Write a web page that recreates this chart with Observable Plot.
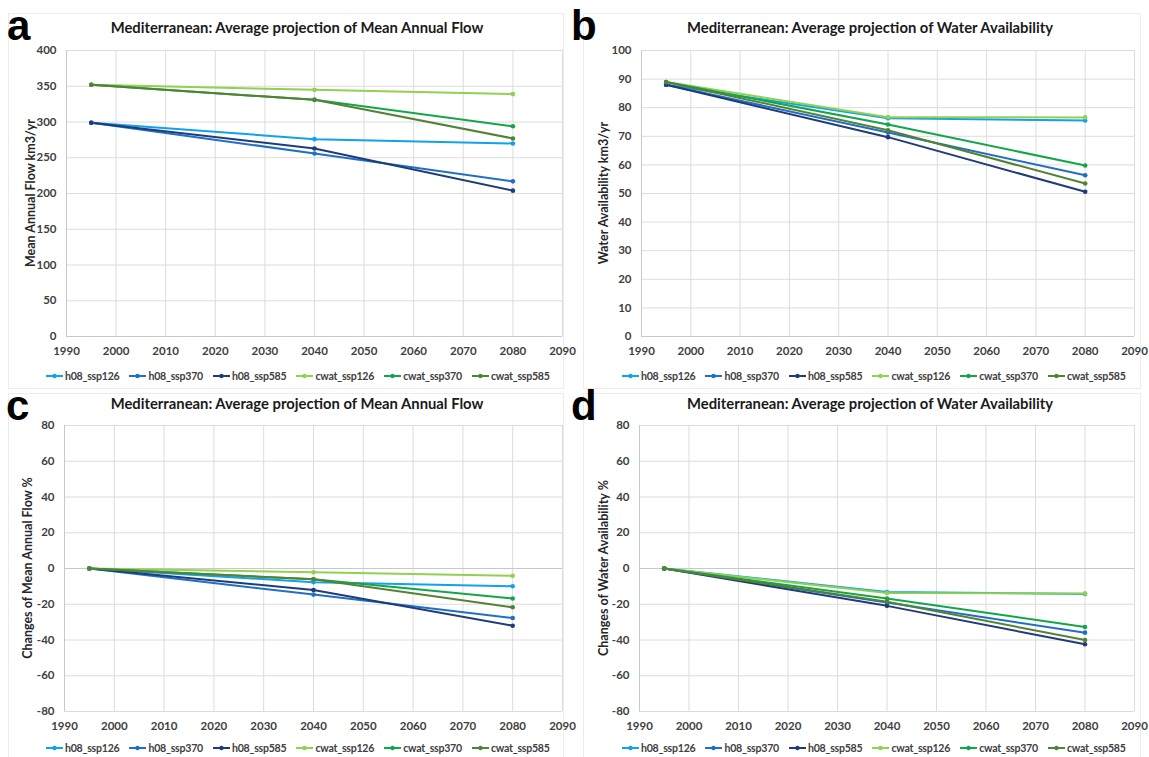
<!DOCTYPE html>
<html><head><meta charset="utf-8">
<script src="https://cdn.jsdelivr.net/npm/d3@7"></script>
<script src="https://cdn.jsdelivr.net/npm/@observablehq/plot@0.6"></script>
<style>
body{margin:0;background:#fff;font-family:Lato,"Open Sans",sans-serif;}
#fig{position:relative;width:1149px;height:757px;overflow:hidden;background:#fff}
.box{position:absolute;border:1px solid #ececec;box-sizing:border-box}
.title{position:absolute;font-weight:700;font-size:14.8px;color:#1a1a1a;white-space:nowrap;transform:translateX(-50%);line-height:18px}
.letter{position:absolute;font-family:"Liberation Sans Narrow","Liberation Sans",Arial,sans-serif;font-weight:700;font-size:42px;color:#000;line-height:1}
.ylab{position:absolute;font-weight:700;font-size:12.5px;color:#262626;white-space:nowrap;transform:translate(-50%,-50%) rotate(-90deg)}
.legend{position:absolute;display:flex;gap:10px;font-weight:700;font-size:10.6px;letter-spacing:-0.25px;color:#404040;white-space:nowrap;align-items:center;line-height:14px}
.legend .item{display:flex;align-items:center;gap:2px}
.svgwrap{position:absolute}
</style></head><body><div id="fig"></div><script>
// ---- data ----
const years = [1995, 2040, 2080];
const seriesNames = ["h08_ssp126","h08_ssp370","h08_ssp585","cwat_ssp126","cwat_ssp370","cwat_ssp585"];
const seriesColors = ["#10a2ea","#1f6fc6","#1f3c78","#92d050","#12a64a","#548235"];
const xTicks = [1990,2000,2010,2020,2030,2040,2050,2060,2070,2080,2090];

// panel a: Mean Annual Flow km3/yr (rows follow seriesNames)
const flowH08_126 = [299, 276, 270];
const flowH08_370 = [299, 256, 217];
const flowH08_585 = [299, 263, 204];
const flowCwat_126 = [352, 345, 339];
const flowCwat_370 = [352, 331, 294];
const flowCwat_585 = [352, 331, 277];
const flowTicks = [0,50,100,150,200,250,300,350,400];

// panel b: Water Availability km3/yr
const waH08_126 = [88, 76.3, 75.5];
const waH08_370 = [88, 71.3, 56.4];
const waH08_585 = [88, 69.7, 50.6];
const waCwat_126 = [89, 76.7, 76.6];
const waCwat_370 = [89, 74.1, 59.8];
const waCwat_585 = [89, 72.1, 53.5];
const waTicks = [0,10,20,30,40,50,60,70,80,90,100];

// panel c: Changes of Mean Annual Flow %
const dFlowH08_126 = [0, -7.7, -9.9];
const dFlowH08_370 = [0, -14.6, -27.7];
const dFlowH08_585 = [0, -12.0, -32.0];
const dFlowCwat_126 = [0, -2.1, -4.1];
const dFlowCwat_370 = [0, -6.0, -16.8];
const dFlowCwat_585 = [0, -6.0, -21.7];

// panel d: Changes of Water Availability %
const dWaH08_126 = [0, -13.2, -14.2];
const dWaH08_370 = [0, -19.0, -35.9];
const dWaH08_585 = [0, -20.9, -42.4];
const dWaCwat_126 = [0, -13.7, -14.0];
const dWaCwat_370 = [0, -16.8, -32.7];
const dWaCwat_585 = [0, -18.6, -40.0];
const changeTicks = [-80,-60,-40,-20,0,20,40,60,80];

const titleFlow = "Mediterranean: Average projection of Mean Annual Flow";
const titleWa = "Mediterranean: Average projection of Water Availability";

// ---- drawing ----
const fig = document.getElementById("fig");
function el(cls, style, text){
  const d = document.createElement("div");
  d.className = cls; Object.assign(d.style, style);
  if (text != null) d.textContent = text;
  fig.appendChild(d); return d;
}

function panel(cfg){
  const rows = [];
  seriesNames.forEach((s,i)=> years.forEach((y,j)=> rows.push({series:s, year:y, value:cfg.values[i][j]})));
  el("box", {left:cfg.box[0]+"px", top:cfg.box[1]+"px", width:cfg.box[2]+"px", height:cfg.box[3]+"px"});
  const svg = Plot.plot({
    width:575, height:326,
    marginLeft:cfg.ml, marginRight:cfg.mr, marginTop:10, marginBottom:30,
    x:{domain:[1990,2090]},
    y:{domain:[cfg.ticks[0], cfg.ticks[cfg.ticks.length-1]]},
    color:{domain:seriesNames, range:seriesColors},
    style:{fontFamily:"Lato, 'Open Sans', sans-serif", fontSize:"11.5px", fontWeight:"bold", color:"#404040", background:"transparent", overflow:"visible"},
    marks:[
      Plot.gridX(xTicks, {stroke:"#dcdcdc", strokeOpacity:1}),
      Plot.gridY(cfg.ticks, {stroke:"#dcdcdc", strokeOpacity:1}),
      Plot.ruleY([cfg.axisAt], {stroke:"#c8c8c8"}),
      Plot.ruleX([1990], {stroke:"#c8c8c8"}),
      Plot.axisX(xTicks, {tickSize:0, tickPadding:10, tickFormat:d=>String(d), label:null}),
      Plot.axisY(cfg.ticks, {tickSize:0, tickPadding:10, tickFormat:d=>String(d), label:null}),
      Plot.line(rows, {x:"year", y:"value", z:"series", stroke:"series", strokeWidth:2}),
      Plot.dot(rows, {x:"year", y:"value", fill:"series", r:2.3})
    ]
  });
  const w = el("svgwrap", {left:cfg.left+"px", top:cfg.top+"px"});
  w.appendChild(svg);
  el("title", {left:cfg.titleX+"px", top:cfg.titleY+"px"}, cfg.title);
  el("letter", {left:cfg.letterPos[0]+"px", top:cfg.letterPos[1]+"px"}, cfg.letter);
  el("ylab", {left:cfg.ylab[0]+"px", top:cfg.ylab[1]+"px"}, cfg.ylabel);
  const lg = el("legend", {left:cfg.legend[0]+"px", top:cfg.legend[1]+"px"});
  seriesNames.forEach((s,i)=>{
    const it = document.createElement("div"); it.className = "item";
    it.innerHTML = `<svg width="17" height="8"><line x1="0" y1="4" x2="17" y2="4" stroke="${seriesColors[i]}" stroke-width="2"/><circle cx="8.5" cy="4" r="2.2" fill="${seriesColors[i]}"/></svg><span>${s}</span>`;
    lg.appendChild(it);
  });
}

panel({
  values:[flowH08_126,flowH08_370,flowH08_585,flowCwat_126,flowCwat_370,flowCwat_585],
  ticks:flowTicks, axisAt:0, left:0, top:40, ml:66, mr:13,
  box:[8,13,556,376], title:titleFlow, titleX:297, titleY:18,
  letter:"a", letterPos:[7,5], ylabel:"Mean Annual Flow km3/yr", ylab:[30,193], legend:[46,369]
});
panel({
  values:[waH08_126,waH08_370,waH08_585,waCwat_126,waCwat_370,waCwat_585],
  ticks:waTicks, axisAt:0, left:574, top:40, ml:67, mr:15,
  box:[583,13,558,376], title:titleWa, titleX:870, titleY:18,
  letter:"b", letterPos:[571,5], ylabel:"Water Availability km3/yr", ylab:[603,193], legend:[622,369]
});
panel({
  values:[dFlowH08_126,dFlowH08_370,dFlowH08_585,dFlowCwat_126,dFlowCwat_370,dFlowCwat_585],
  ticks:changeTicks, axisAt:0, left:0, top:415, ml:64, mr:13,
  box:[8,393,556,370], title:titleFlow, titleX:297, titleY:394,
  letter:"c", letterPos:[6,385], ylabel:"Changes of Mean Annual Flow %", ylab:[27,568], legend:[46,741]
});
panel({
  values:[dWaH08_126,dWaH08_370,dWaH08_585,dWaCwat_126,dWaCwat_370,dWaCwat_585],
  ticks:changeTicks, axisAt:0, left:574, top:415, ml:65, mr:15,
  box:[583,393,558,370], title:titleWa, titleX:870, titleY:394,
  letter:"d", letterPos:[571,385], ylabel:"Changes of Water Availability %", ylab:[603,568], legend:[622,741]
});
</script></body></html>
